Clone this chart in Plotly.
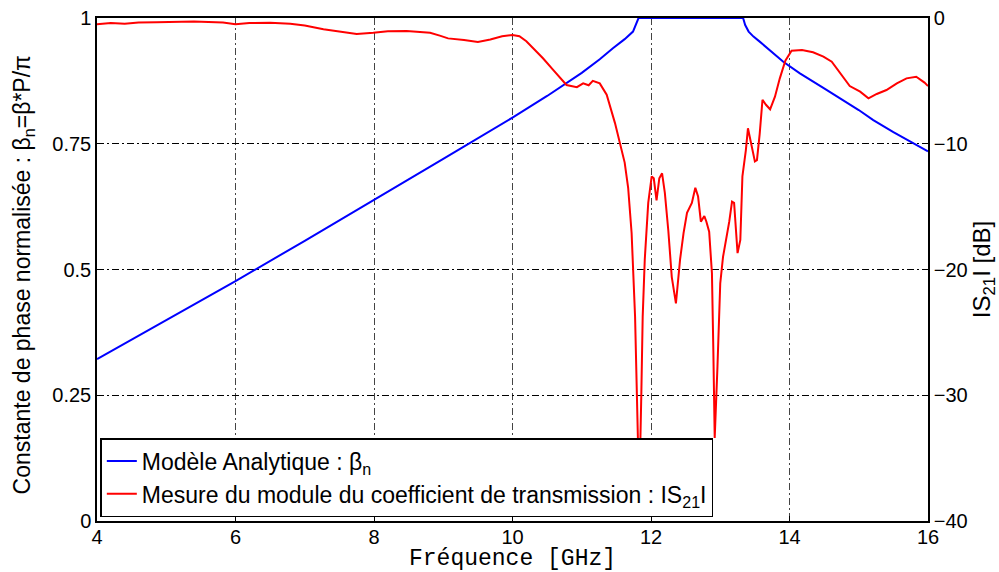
import plotly.graph_objects as go

# Analytical model: normalised phase constant beta_n = beta*P/pi
freq_model = [4.0, 5.0, 6.0, 7.0, 8.0, 9.0, 10.0, 10.5, 11.0, 11.26, 11.45, 11.62,
              11.74, 11.79, 11.82, 12.5, 13.33, 13.36, 13.41, 13.48, 13.57, 13.91,
              14.15, 14.5, 15.0, 15.21, 15.5, 16.0]
beta_n = [0.322, 0.399, 0.477, 0.557, 0.638, 0.720, 0.802, 0.845, 0.891, 0.918, 0.940,
          0.958, 0.973, 0.988, 1.0, 1.0, 1.0, 0.986, 0.973, 0.963, 0.953, 0.913,
          0.890, 0.860, 0.817, 0.797, 0.773, 0.735]

# Measured transmission magnitude |S21| in dB
freq_meas = [4.00, 4.20, 4.40, 4.60, 4.86, 5.10, 5.40, 5.82, 6.00, 6.20, 6.50, 6.79,
             7.00, 7.27, 7.50, 7.75, 7.99, 8.20, 8.47, 8.70, 8.81, 8.95, 9.07, 9.30,
             9.50, 9.68, 9.85, 10.00, 10.10, 10.20, 10.30, 10.44, 10.59, 10.70, 10.78,
             10.93, 11.02, 11.10, 11.16, 11.26, 11.36, 11.48, 11.55, 11.62, 11.67,
             11.72, 11.77, 11.80, 11.83, 11.86, 11.88, 11.91, 11.96, 12.01, 12.04,
             12.08, 12.12, 12.16, 12.20, 12.25, 12.30, 12.36, 12.42, 12.47, 12.52,
             12.59, 12.64, 12.68, 12.72, 12.77, 12.80, 12.84, 12.88, 12.90, 12.92,
             12.96, 13.00, 13.04, 13.09, 13.13, 13.17, 13.20, 13.25, 13.29, 13.32,
             13.37, 13.40, 13.45, 13.50, 13.53, 13.57, 13.61, 13.66, 13.72, 13.79,
             13.86, 13.94, 14.03, 14.18, 14.34, 14.49, 14.61, 14.75, 14.87, 15.02,
             15.14, 15.26, 15.40, 15.55, 15.69, 15.83, 15.95, 16.00]
s21_db = [-0.50, -0.40, -0.45, -0.35, -0.34, -0.30, -0.28, -0.36, -0.50, -0.40, -0.38,
          -0.45, -0.60, -0.90, -1.05, -1.27, -1.17, -1.05, -1.03, -1.10, -1.17, -1.40,
          -1.62, -1.75, -1.90, -1.71, -1.45, -1.35, -1.45, -1.85, -2.40, -3.20, -4.14,
          -4.80, -5.33, -5.50, -5.20, -5.35, -5.00, -5.20, -6.10, -8.36, -9.96, -11.5,
          -13.5, -17.1, -23.75, -30.0, -38.0, -30.0, -23.75, -19.2, -14.7, -12.6,
          -12.75, -14.5, -12.75, -12.35, -13.9, -16.9, -20.6, -22.7, -19.2, -17.1,
          -15.5, -14.7, -13.5, -14.2, -16.2, -15.75, -16.2, -17.0, -20.3, -26.4, -33.4,
          -27.7, -21.1, -19.0, -17.5, -16.2, -14.6, -14.7, -18.7, -17.65, -12.6, -10.5,
          -8.77, -10.2, -11.4, -11.3, -9.2, -6.5, -6.9, -7.26, -6.26, -4.8, -3.4, -2.6,
          -2.55, -2.73, -3.07, -3.47, -4.53, -5.41, -5.86, -6.39, -6.04, -5.73, -5.20,
          -4.80, -4.67, -5.14, -5.41]

x_ticks = [4, 6, 8, 10, 12, 14, 16]
beta_ticks = [0, 0.25, 0.5, 0.75, 1]
db_ticks = [-40, -30, -20, -10, 0]

x_title = "Fréquence [GHz]"
y_title = "Constante de phase normalisée : β<sub>n</sub>=β*P/π"
y2_title = "IS<sub>21</sub>I [dB]"

SANS = "Liberation Sans, Arial, Helvetica, sans-serif"
MONO = "Liberation Mono, Courier New, monospace"
GRID_DASH = "7px,3px,2px,3px"

fig = go.Figure()
fig.add_trace(go.Scatter(
    x=freq_model, y=beta_n, mode="lines", yaxis="y",
    line=dict(color="#0000ff", width=2),
    name="Modèle Analytique : β<sub>n</sub>",
))
fig.add_trace(go.Scatter(
    x=freq_meas, y=s21_db, mode="lines", yaxis="y2",
    line=dict(color="#ff0000", width=2),
    name="Mesure du module du coefficient de transmission : IS<sub>21</sub>I",
))

axis_common = dict(
    showline=True, linecolor="black", linewidth=1.5,
    ticks="inside", ticklen=5, tickcolor="black", tickwidth=1,
    tickfont=dict(family=SANS, size=20, color="black"),
    zeroline=False, automargin=False,
)

fig.update_layout(
    width=999, height=572,
    margin=dict(l=97, r=71, t=18, b=51),
    paper_bgcolor="white", plot_bgcolor="white",
    showlegend=True,
    legend=dict(
        x=0.004, y=0.165, xanchor="left", yanchor="top",
        bgcolor="white", bordercolor="black", borderwidth=1.5,
        font=dict(family=SANS, size=23, color="black"),
        itemwidth=30,
    ),
    xaxis=dict(
        range=[4, 16], tickvals=x_ticks, mirror=True, ticklabelstandoff=-3,
        showgrid=True, gridcolor="#444444", gridwidth=1, griddash=GRID_DASH,
        **axis_common,
    ),
    yaxis=dict(
        range=[0, 1], tickvals=beta_ticks, mirror=True,
        showgrid=True, gridcolor="black", gridwidth=1, griddash=GRID_DASH,
        **axis_common,
    ),
    yaxis2=dict(
        range=[-40, 0], tickvals=db_ticks, overlaying="y", side="right",
        showgrid=False,
        title=dict(text=y2_title, standoff=0,
                   font=dict(family=SANS, size=24, color="black")),
        **axis_common,
    ),
    annotations=[
        dict(text=x_title, xref="paper", yref="paper", x=0.5, y=-0.076,
             xanchor="center", yanchor="middle", showarrow=False,
             height=26, borderpad=0,
             font=dict(family=MONO, size=23, color="black")),
        dict(text=y_title, xref="paper", yref="paper", x=-0.088, y=0.49,
             xanchor="center", yanchor="middle", textangle=-90, showarrow=False,
             font=dict(family=SANS, size=23, color="black")),
    ],
)

fig.write_html("out.html")
